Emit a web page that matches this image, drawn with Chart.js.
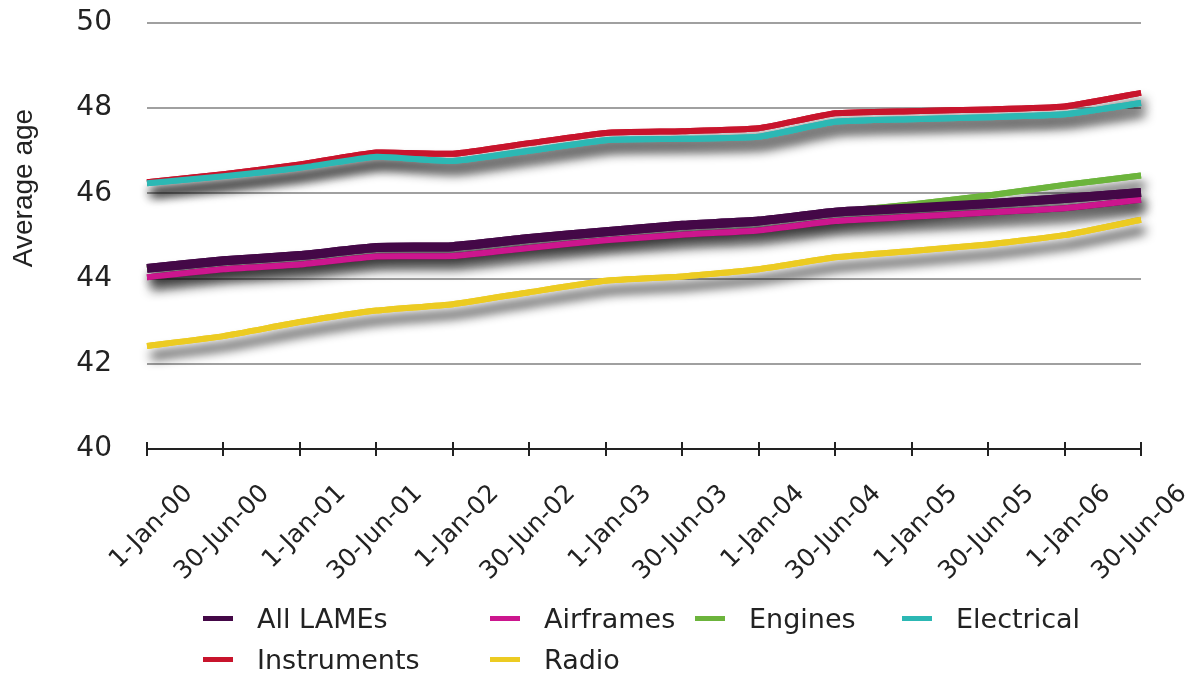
<!DOCTYPE html>
<html>
<head>
<meta charset="utf-8">
<script src="https://cdn.jsdelivr.net/npm/chart.js@4.4.1/dist/chart.umd.min.js"></script>
<style>
  body { margin: 0; background: #fff; }
  #wrap { position: relative; width: 1202px; height: 675px; }
  #legend {
    position: absolute; left: 203px; top: 598px;
    display: grid; grid-template-columns: 287px 205px 207px auto;
    row-gap: 1px;
    font-family: "DejaVu Sans", sans-serif; font-size: 27px; color: #222;
  }
  #legend .item { display: flex; align-items: center; height: 40px; white-space: nowrap; }
  #legend .mark { display: inline-block; width: 30px; height: 5px; margin-right: 24px; }
</style>
</head>
<body>
<div id="wrap">
  <canvas id="ages" width="1202" height="675"></canvas>
  <div id="legend"></div>
</div>
<script>
const categories = ['1-Jan-00','30-Jun-00','1-Jan-01','30-Jun-01','1-Jan-02','30-Jun-02','1-Jan-03',
  '30-Jun-03','1-Jan-04','30-Jun-04','1-Jan-05','30-Jun-05','1-Jan-06','30-Jun-06'];

const allLames    = [44.24, 44.42, 44.54, 44.73, 44.75, 44.94, 45.10, 45.25, 45.35, 45.56, 45.66, 45.76, 45.88, 46.02];
const airframes   = [44.03, 44.22, 44.33, 44.52, 44.53, 44.72, 44.90, 45.03, 45.13, 45.35, 45.45, 45.55, 45.65, 45.85];
const engines     = [44.24, 44.42, 44.54, 44.73, 44.75, 44.94, 45.10, 45.25, 45.35, 45.56, 45.74, 45.95, 46.20, 46.42];
const electrical  = [46.24, 46.40, 46.60, 46.86, 46.76, 47.00, 47.25, 47.28, 47.33, 47.68, 47.74, 47.79, 47.86, 48.12];
const instruments = [46.26, 46.45, 46.68, 46.96, 46.93, 47.18, 47.42, 47.46, 47.53, 47.88, 47.93, 47.97, 48.04, 48.36];
const radio       = [42.42, 42.65, 42.98, 43.25, 43.40, 43.68, 43.95, 44.05, 44.22, 44.50, 44.65, 44.80, 45.02, 45.38];

const seriesNames = ['All LAMEs','Airframes','Engines','Electrical','Instruments','Radio'];
const yMin = 40, yMax = 50, yStep = 2;

const colours = ['#440847','#cc168e','#6cb43c','#2cb8b4','#c8142c','#eccb22'];
const widths  = [9, 6, 6, 6, 6, 6];
const values  = [allLames, airframes, engines, electrical, instruments, radio];

// one shadow pass under all the lines, then the lines draw normally on top
const lineShadow = {
  id: 'lineShadow',
  beforeDatasetsDraw(chart) {
    const ctx = chart.ctx;
    const metas = chart.getSortedVisibleDatasetMetas();
    ctx.save();
    ctx.shadowColor = 'rgba(0,0,0,0.9)';
    ctx.shadowBlur = 11;
    ctx.shadowOffsetX = 4;
    ctx.shadowOffsetY = 10;
    for (let i = metas.length - 1; i >= 0; i--) {
      metas[i].dataset.draw(ctx, chart.chartArea);
    }
    ctx.restore();
  }
};

// tick marks crossing the x axis + rotated y title
const axisExtras = {
  id: 'axisExtras',
  afterDraw(chart) {
    const ctx = chart.ctx;
    const xs = chart.scales.x, ys = chart.scales.y;
    const y0 = ys.getPixelForValue(yMin);
    ctx.save();
    ctx.strokeStyle = '#222';
    ctx.lineWidth = 2;
    for (let i = 0; i < categories.length; i++) {
      const x = Math.round(xs.getPixelForTick(i));
      ctx.beginPath();
      ctx.moveTo(x, y0 - 7);
      ctx.lineTo(x, y0 + 7);
      ctx.stroke();
    }
    ctx.translate(24, 188);
    ctx.rotate(-Math.PI / 2);
    ctx.fillStyle = '#222';
    ctx.font = '28px "Liberation Sans"';
    ctx.textAlign = 'center';
    ctx.textBaseline = 'middle';
    ctx.fillText('Average age', 0, 0);
    ctx.restore();
  }
};

const chart = new Chart(document.getElementById('ages'), {
  type: 'line',
  data: {
    labels: categories,
    datasets: seriesNames.map((name, i) => ({
      label: name,
      data: values[i],
      borderColor: colours[i],
      backgroundColor: colours[i],
      borderWidth: widths[i],
      pointRadius: 0,
      tension: 0.15,
      borderCapStyle: 'butt',
      borderJoinStyle: 'round'
    }))
  },
  options: {
    responsive: false,
    animation: false,
    layout: { padding: { top: 23, right: 61, left: 0, bottom: 0 } },
    plugins: { legend: { display: false }, tooltip: { enabled: false } },
    scales: {
      x: {
        offset: false,
        grid: { display: false, drawTicks: false },
        border: { display: true, color: '#222', width: 2 },
        ticks: {
          minRotation: 45, maxRotation: 45, autoSkip: false,
          labelOffset: 42, padding: 30,
          color: '#222',
          font: { family: 'DejaVu Sans', size: 25 }
        },
        afterFit(s) { s.height = 675 - 449; s.paddingLeft = 0; s.paddingRight = 0; }
      },
      y: {
        min: yMin, max: yMax,
        grid: {
          drawTicks: false,
          color: ctx => ctx.tick && ctx.tick.value === yMin ? 'rgba(0,0,0,0)' : '#a0a0a0',
          lineWidth: 2
        },
        border: { display: false },
        ticks: {
          stepSize: yStep, padding: 35, color: '#222',
          font: { family: 'DejaVu Sans', size: 28 }
        },
        afterFit(s) { s.width = 147; s.paddingTop = 0; s.paddingBottom = 0; }
      }
    }
  },
  plugins: [lineShadow, axisExtras]
});

// legend laid out in columns under the axis
const legend = document.getElementById('legend');
chart.data.datasets.forEach(ds => {
  const item = document.createElement('div');
  item.className = 'item';
  const mark = document.createElement('span');
  mark.className = 'mark';
  mark.style.background = ds.borderColor;
  item.appendChild(mark);
  item.appendChild(document.createTextNode(ds.label));
  legend.appendChild(item);
});
</script>
</body>
</html>
